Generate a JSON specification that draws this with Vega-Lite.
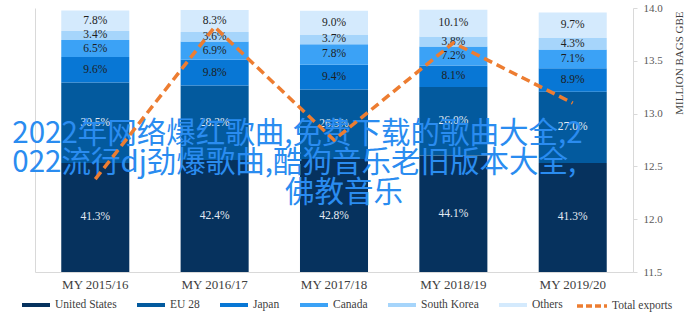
{
  "$schema": "https://vega.github.io/schema/vega-lite/v6.json",
  "width": 598,
  "height": 264,
  "autosize": {"type": "none"},
  "padding": {"left": 35, "top": 8, "right": 55, "bottom": 47},
  "background": "white",
  "config": {"view": {"stroke": null}, "font": "Times New Roman, Liberation Serif, serif"},
  "datasets": {
    "shares": [
      {"year": "MY 2015/16", "country": "United States", "k": 1, "pct": 0.413},
      {"year": "MY 2015/16", "country": "EU 28", "k": 2, "pct": 0.305},
      {"year": "MY 2015/16", "country": "Japan", "k": 3, "pct": 0.096},
      {"year": "MY 2015/16", "country": "Canada", "k": 4, "pct": 0.065},
      {"year": "MY 2015/16", "country": "South Korea", "k": 5, "pct": 0.034},
      {"year": "MY 2015/16", "country": "Others", "k": 6, "pct": 0.078},
      {"year": "MY 2016/17", "country": "United States", "k": 1, "pct": 0.424},
      {"year": "MY 2016/17", "country": "EU 28", "k": 2, "pct": 0.282},
      {"year": "MY 2016/17", "country": "Japan", "k": 3, "pct": 0.098},
      {"year": "MY 2016/17", "country": "Canada", "k": 4, "pct": 0.069},
      {"year": "MY 2016/17", "country": "South Korea", "k": 5, "pct": 0.036},
      {"year": "MY 2016/17", "country": "Others", "k": 6, "pct": 0.083},
      {"year": "MY 2017/18", "country": "United States", "k": 1, "pct": 0.428},
      {"year": "MY 2017/18", "country": "EU 28", "k": 2, "pct": 0.263},
      {"year": "MY 2017/18", "country": "Japan", "k": 3, "pct": 0.094},
      {"year": "MY 2017/18", "country": "Canada", "k": 4, "pct": 0.078},
      {"year": "MY 2017/18", "country": "South Korea", "k": 5, "pct": 0.037},
      {"year": "MY 2017/18", "country": "Others", "k": 6, "pct": 0.090},
      {"year": "MY 2018/19", "country": "United States", "k": 1, "pct": 0.441},
      {"year": "MY 2018/19", "country": "EU 28", "k": 2, "pct": 0.260},
      {"year": "MY 2018/19", "country": "Japan", "k": 3, "pct": 0.081},
      {"year": "MY 2018/19", "country": "Canada", "k": 4, "pct": 0.072},
      {"year": "MY 2018/19", "country": "South Korea", "k": 5, "pct": 0.038},
      {"year": "MY 2018/19", "country": "Others", "k": 6, "pct": 0.101},
      {"year": "MY 2019/20", "country": "United States", "k": 1, "pct": 0.413},
      {"year": "MY 2019/20", "country": "EU 28", "k": 2, "pct": 0.270},
      {"year": "MY 2019/20", "country": "Japan", "k": 3, "pct": 0.089},
      {"year": "MY 2019/20", "country": "Canada", "k": 4, "pct": 0.071},
      {"year": "MY 2019/20", "country": "South Korea", "k": 5, "pct": 0.043},
      {"year": "MY 2019/20", "country": "Others", "k": 6, "pct": 0.097}
    ],
    "exports": [
      {"year": "MY 2015/16", "exports": 12.38},
      {"year": "MY 2016/17", "exports": 13.82},
      {"year": "MY 2017/18", "exports": 12.75},
      {"year": "MY 2018/19", "exports": 13.67},
      {"year": "MY 2019/20", "exports": 13.10}
    ]
  },
  "layer": [
    {
      "encoding": {
        "x": {
          "field": "year", "type": "nominal",
          "scale": {"paddingInner": 0.43, "paddingOuter": 0.22},
          "axis": {"title": null, "labelAngle": 0, "ticks": false, "domainColor": "#d9d9d9", "labelFont": "Times New Roman, Liberation Serif, serif", "labelFontSize": 13, "labelColor": "#404040", "labelPadding": 6}
        }
      },
      "layer": [
        {
          "data": {"name": "shares"},
          "mark": {"type": "bar"},
          "encoding": {
            "y": {"field": "pct", "type": "quantitative", "stack": "zero", "scale": {"domain": [0, 1]},
              "axis": {"title": null, "labels": false, "ticks": false, "grid": false, "domainColor": "#d9d9d9"}},
            "color": {
              "field": "country", "type": "nominal",
              "scale": {"domain": ["United States", "EU 28", "Japan", "Canada", "South Korea", "Others"],
                "range": ["#06325e", "#035a9e", "#0877d5", "#3ba2f6", "#a6d5fb", "#d4eafd"]},
              "legend": {
                "orient": "none", "legendX": -15, "legendY": 281, "direction": "horizontal", "title": null,
                "symbolType": "stroke", "symbolSize": 784, "symbolStrokeWidth": 4,
                "labelFont": "Times New Roman, Liberation Serif, serif", "labelFontSize": 11.5, "labelColor": "#404040",
                "labelOffset": 3, "columnPadding": 12,
                "encode": {"symbols": {"update": {"stroke": {"scale": "color", "field": "value"}}}}
              }
            },
            "order": {"field": "k", "type": "quantitative"}
          }
        },
        {
          "data": {"name": "shares"},
          "mark": {"type": "text", "font": "Times New Roman, Liberation Serif, serif", "fontSize": 11.5, "baseline": "middle"},
          "encoding": {
            "y": {"field": "pct", "type": "quantitative", "stack": "zero", "bandPosition": 0.5},
            "detail": {"field": "country", "type": "nominal"},
            "order": {"field": "k", "type": "quantitative"},
            "text": {"field": "pct", "type": "quantitative", "format": ".1%"},
            "color": {"condition": {"test": "datum.country === 'United States' || datum.country === 'EU 28'", "value": "#e4ebf3"}, "value": "#1e1e1e"}
          }
        },
        {
          "data": {"values": [{}]},
          "mark": {"type": "text", "font": "Noto Sans CJK SC", "fontSize": 29.5, "align": "left", "baseline": "middle", "color": "#2a8cf0", "dx": -83},
          "encoding": {
            "x": {"datum": "MY 2015/16"},
            "y": {"datum": 0.523},
            "text": {"value": "2022年网络爆红歌曲,免费下载的歌曲大全,2"}
          }
        },
        {
          "data": {"values": [{}]},
          "mark": {"type": "text", "font": "Noto Sans CJK SC", "fontSize": 29.5, "align": "left", "baseline": "middle", "color": "#2a8cf0", "dx": -83},
          "encoding": {
            "x": {"datum": "MY 2015/16"},
            "y": {"datum": 0.413},
            "text": {"value": "022流行dj劲爆歌曲,酷狗音乐老旧版本大全,"}
          }
        },
        {
          "data": {"values": [{}]},
          "mark": {"type": "text", "font": "Noto Sans CJK SC", "fontSize": 29.5, "align": "center", "baseline": "middle", "color": "#2a8cf0", "dx": 10},
          "encoding": {
            "x": {"datum": "MY 2017/18"},
            "y": {"datum": 0.30},
            "text": {"value": "佛教音乐"}
          }
        }
      ]
    },
    {
      "data": {"name": "exports"},
      "mark": {"type": "line", "strokeDash": [9, 5], "strokeWidth": 3.5},
      "encoding": {
        "x": {"field": "year", "type": "nominal"},
        "y": {
          "field": "exports", "type": "quantitative",
          "scale": {"domain": [11.5, 14], "zero": false},
          "axis": {"orient": "right", "values": [11.5, 12, 12.5, 13, 13.5, 14], "format": ".1f", "grid": false,
            "labelFont": "Times New Roman, Liberation Serif, serif", "labelFontSize": 11, "labelColor": "#595959", "labelPadding": 6,
            "domainColor": "#d9d9d9", "tickColor": "#d9d9d9", "tickSize": 4,
            "title": "MILLION BAGS GBE", "titleFont": "Times New Roman, Liberation Serif, serif", "titleFontSize": 11, "titleFontWeight": "normal",
            "titleColor": "#404040", "titleAngle": 270, "titleAnchor": "end", "titlePadding": 22, "titleY": 3}
        },
        "stroke": {
          "datum": "Total exports",
          "scale": {"range": ["#ed7d31"]},
          "legend": {
            "orient": "none", "legendX": 540, "legendY": 281, "direction": "horizontal", "title": null,
            "symbolType": "stroke", "symbolSize": 900, "symbolStrokeWidth": 3.5, "symbolDash": [6, 3],
            "labelFont": "Times New Roman, Liberation Serif, serif", "labelFontSize": 11.5, "labelColor": "#404040", "labelOffset": 3
          }
        }
      }
    }
  ],
  "resolve": {"scale": {"y": "independent"}}
}
